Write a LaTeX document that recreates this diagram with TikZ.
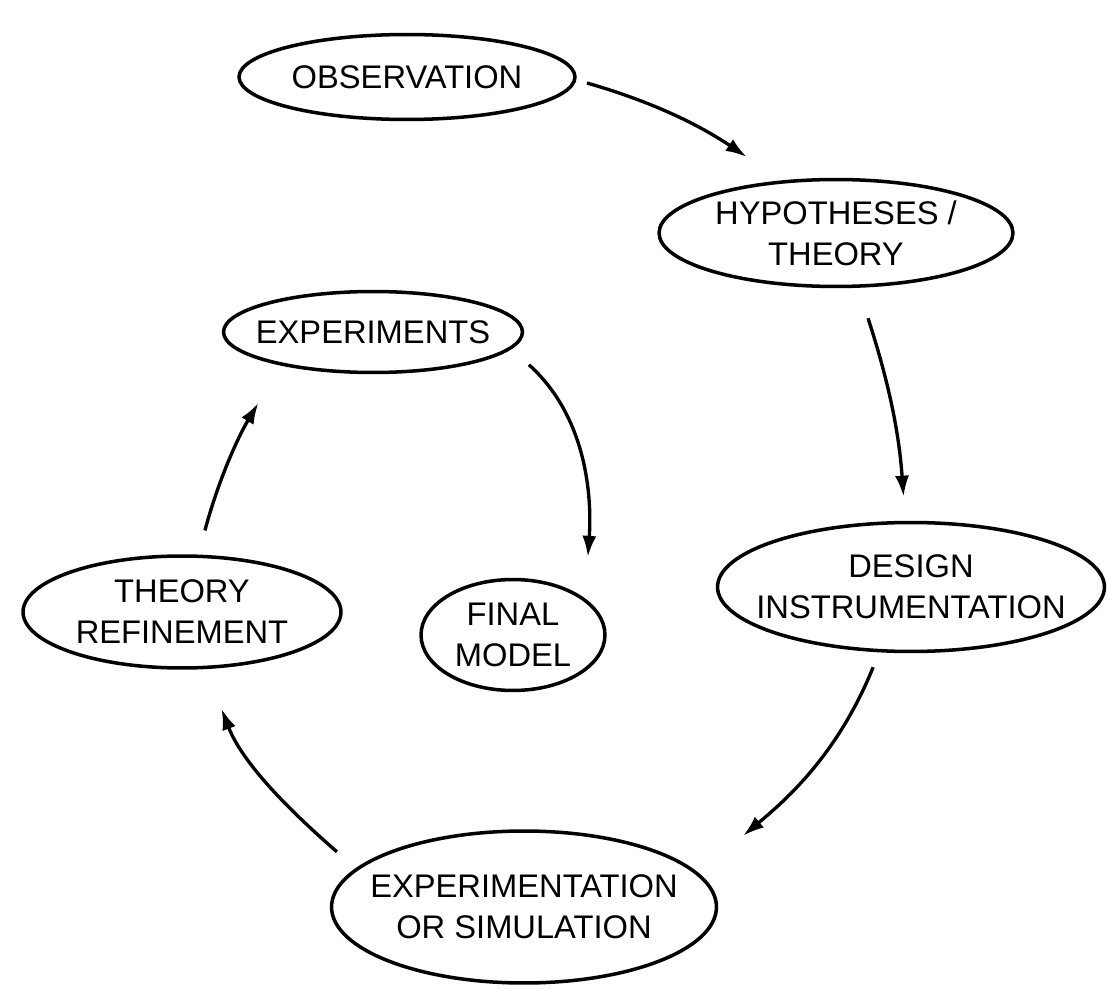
\documentclass[tikz,border=0pt]{standalone}
\usepackage{fontspec}
\setmainfont{Liberation Sans}
\usetikzlibrary{shapes.geometric,arrows.meta}

\begin{document}
\begin{tikzpicture}[
   x=0.02cm, y=-0.02cm,
   stage/.style={ellipse, draw, line width=2pt, inner sep=-40pt, align=center,
      font=\fontsize{18.6}{23.3}\selectfont},
   arrow/.style={-{Latex[length=12pt,width=8pt]}, line width=1.9pt}
]
\useasboundingbox (0,0) rectangle (1107,990);

% Outer cycle
\node[stage, minimum width=6.72cm, minimum height=1.70cm] (obs) at (407,77) {OBSERVATION};
\node[stage, minimum width=7.08cm, minimum height=2.14cm] (hyp) at (836,233) {HYPOTHESES /\\THEORY};
\node[stage, minimum width=7.74cm, minimum height=2.58cm] (design) at (911,587) {DESIGN\\INSTRUMENTATION};
\node[stage, minimum width=7.70cm, minimum height=3.04cm] (expsim) at (524,907) {EXPERIMENTATION\\OR SIMULATION};
\node[stage, minimum width=6.36cm, minimum height=2.24cm] (refine) at (182,612) {THEORY\\REFINEMENT};

% Inner loop
\node[stage, minimum width=5.98cm, minimum height=1.62cm] (expts) at (373,332) {EXPERIMENTS};
\node[stage, minimum width=3.68cm, minimum height=2.22cm] (model) at (513,635) {FINAL\\MODEL};

% Arrows
\draw[arrow, shorten <=6.3pt, shorten >=23.9pt] (obs.-1) to[out=-16, in=146] (hyp.136);
\draw[arrow, shorten <=18.2pt, shorten >=13.7pt] (hyp.-68) to[out=-72, in=94] (design.95);
\draw[arrow, shorten <=9.1pt, shorten >=33pt] (design.244) to[out=-112, in=40] (expsim.11);
\draw[arrow, shorten <=14.2pt, shorten >=24.2pt] (expsim.167) to[out=139, in=-69] (refine.-67);
\draw[arrow, shorten <=14.2pt, shorten >=24.8pt] (refine.74) to[out=75, in=-121] (expts.200);
\draw[arrow, shorten <=13.4pt, shorten >=23.6pt] (expts.-7) to[out=-42, in=86] (model.27);

\end{tikzpicture}
\end{document}
